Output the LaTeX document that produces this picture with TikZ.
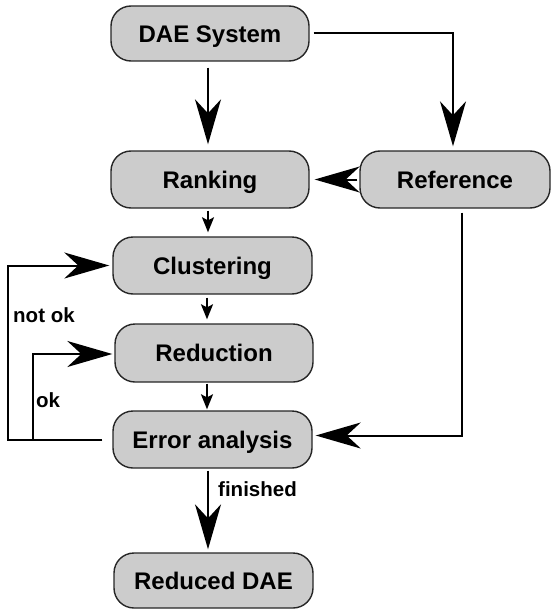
\documentclass[tikz,border=0pt]{standalone}
\usepackage{fontspec}
\setmainfont{Liberation Sans}
\usetikzlibrary{arrows.meta}
\definecolor{boxgray}{HTML}{CCCCCC}
\begin{document}
\begin{tikzpicture}[x=1pt,y=-1pt,
  stepbox/.style={draw=black!85, line width=1.4pt, fill=boxgray, rounded corners=20pt,
    minimum height=56pt, inner sep=0pt, text height=17.2pt, text depth=0pt,
    font=\fontsize{24}{28}\selectfont\bfseries},
  bigarrow/.style={line width=2pt, -{Stealth[length=45pt,width=26pt,inset=14pt]}},
  smallarrow/.style={line width=1.5pt, -{Stealth[length=15pt,width=12pt,inset=3pt]}},
  lbl/.style={font=\fontsize{20.5}{24}\selectfont\bfseries, anchor=west, inner sep=0pt}]
\useasboundingbox (0,0) rectangle (551,610);
\node[stepbox, minimum width=198pt, minimum height=55pt] (dae) at (210,33.5) {DAE System};
\node[stepbox, minimum width=198pt, minimum height=57pt] (rank) at (210,179.5) {Ranking};
\node[stepbox, minimum width=190pt, minimum height=57pt] (ref) at (455,179.5) {Reference};
\node[stepbox, minimum width=199pt, minimum height=57pt] (clus) at (212.5,265.5) {Clustering};
\node[stepbox, minimum width=198pt, minimum height=58pt] (red) at (214,353) {Reduction};
\node[stepbox, minimum width=199pt, minimum height=57pt] (err) at (212.5,439.5) {Error analysis};
\node[stepbox, minimum width=199pt, minimum height=55pt] (rdae) at (213.5,580.5) {Reduced DAE};

\draw[bigarrow, shorten <=6pt, shorten >=6pt] ([xshift=-2pt]dae.south) -- ([xshift=-2pt]rank.north);
\draw[bigarrow, shorten <=4pt, shorten >=4pt] (dae.east) -| ([xshift=-2pt]ref.north);
\draw[bigarrow, shorten <=2pt, shorten >=5pt] (ref.west) -- (rank.east);
\draw[smallarrow, shorten <=2pt, shorten >=4pt] ([xshift=-2pt]rank.south) -- ([xshift=-4.5pt]clus.north);
\draw[smallarrow, shorten <=3pt, shorten >=4pt] ([xshift=-5.5pt]clus.south) -- ([xshift=-7pt]red.north);
\draw[smallarrow, shorten <=1pt, shorten >=1pt] ([xshift=-7pt]red.south) -- ([xshift=-5.5pt]err.north);
\draw[bigarrow, shorten <=10pt, shorten >=3pt] (err.west) -- ++(-104,0) |- (clus.west);
\coordinate (okfoot) at (33,439.5);
\draw[bigarrow, shorten >=2pt] (okfoot) |- ([yshift=-1pt]red.west);
\draw[bigarrow, shorten <=4pt, shorten >=3pt] ([xshift=7pt]ref.south) |- ([yshift=4pt]err.east);
\draw[bigarrow, shorten <=2pt, shorten >=3pt] ([xshift=-4.5pt]err.south) -- ([xshift=-5.5pt]rdae.north);

\node[lbl] (notok) at (13,315) {not ok};
\node[lbl] (ok) at (36,400) {ok};
\node[lbl] (fin) at (218,489) {finished};
\end{tikzpicture}
\end{document}
